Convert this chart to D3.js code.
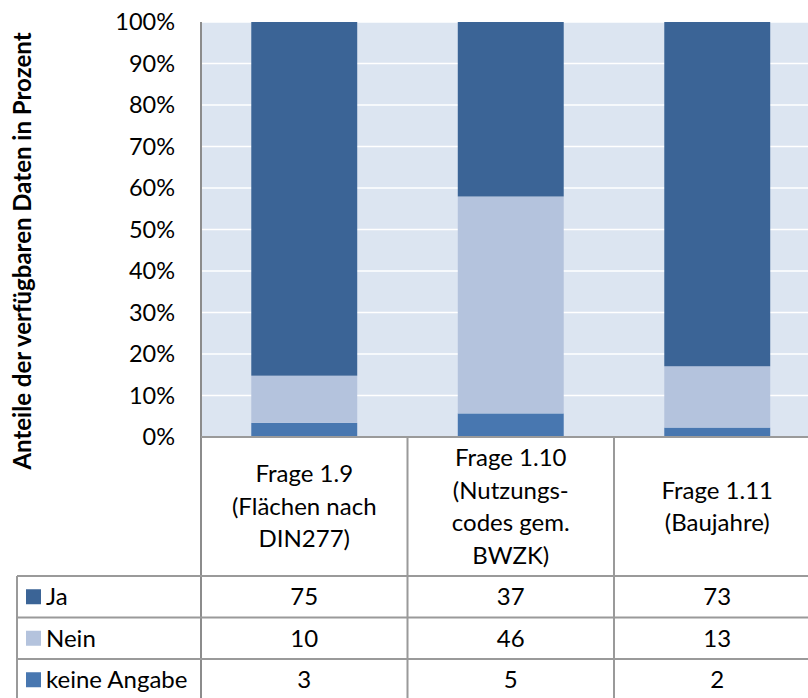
<!DOCTYPE html>
<html>
<head>
<meta charset="utf-8">
<script src="https://cdn.jsdelivr.net/npm/d3@7/dist/d3.min.js"></script>
<style>
  html, body { margin: 0; padding: 0; background: #ffffff; }
  svg { display: block; }
  text { font-family: Lato, "Open Sans", sans-serif; fill: #000; }
</style>
</head>
<body>
<svg id="chart" width="808" height="698"></svg>
<script>
// Survey answers per question (counts)
const categories = [
  ["Frage 1.9", "(Flächen nach", "DIN277)"],
  ["Frage 1.10", "(Nutzungs-", "codes gem.", "BWZK)"],
  ["Frage 1.11", "(Baujahre)"]
];
const categoryIds = ["Frage 1.9", "Frage 1.10", "Frage 1.11"];
const seriesNames = ["Ja", "Nein", "keine Angabe"];
const ja = [75, 37, 73];
const nein = [10, 46, 13];
const keineAngabe = [3, 5, 2];
const tickValues = [0, 0.1, 0.2, 0.3, 0.4, 0.5, 0.6, 0.7, 0.8, 0.9, 1.0];
const yTitle = "Anteile der verfügbaren Daten in Prozent";

const colors = { "Ja": "#3b6496", "Nein": "#b4c3dd", "keine Angabe": "#4877b0" };
const seriesValues = { "Ja": ja, "Nein": nein, "keine Angabe": keineAngabe };

const svg = d3.select("#chart");

const plotLeft = 201, plotTop = 22, plotBottom = 437;
const step = 206.5;
const plotRight = plotLeft + step * categoryIds.length;
const tableLeft = 17, tableTop = 576, rowH = 41.5;
const fs = 24;

const x = d3.scaleBand()
  .domain(categoryIds)
  .range([plotLeft, plotRight])
  .paddingInner(0.487)
  .paddingOuter(0.2435);

const y = d3.scaleLinear().domain([0, 1]).range([plotBottom, plotTop]);

// plot background
svg.append("rect")
  .attr("x", plotLeft).attr("y", plotTop)
  .attr("width", plotRight - plotLeft).attr("height", plotBottom - plotTop)
  .attr("fill", "#dce5f1");

// white gridlines
svg.append("g").selectAll("line")
  .data(tickValues.filter(d => d > 0))
  .join("line")
  .attr("x1", plotLeft).attr("x2", plotRight)
  .attr("y1", d => y(d)).attr("y2", d => y(d))
  .attr("stroke", "#ffffff").attr("stroke-width", 1.6);

// stacked 100% bars: keine Angabe at the bottom, Ja on top
const rows = categoryIds.map((c, i) => ({
  cat: c, "Ja": ja[i], "Nein": nein[i], "keine Angabe": keineAngabe[i]
}));
const stack = d3.stack()
  .keys(["keine Angabe", "Nein", "Ja"])
  .offset(d3.stackOffsetExpand);
const layers = stack(rows);

svg.append("g").selectAll("g")
  .data(layers)
  .join("g")
  .attr("fill", d => colors[d.key])
  .selectAll("rect")
  .data(d => d)
  .join("rect")
  .attr("x", d => x(d.data.cat))
  .attr("width", x.bandwidth())
  .attr("y", d => y(d[1]))
  .attr("height", d => y(d[0]) - y(d[1]));

// y axis tick labels
const yAxis = d3.axisLeft(y)
  .tickValues(tickValues)
  .tickFormat(d3.format(".0%"))
  .tickSize(0)
  .tickPadding(26);
const ya = svg.append("g").attr("transform", `translate(${plotLeft},0)`).call(yAxis);
ya.select(".domain").remove();
ya.selectAll("text")
  .attr("font-size", 23.5)
  .attr("font-family", "Lato, sans-serif")
  .attr("fill", "#000");

// y axis title
svg.append("text")
  .attr("transform", "translate(31,251) rotate(-90)")
  .attr("text-anchor", "middle")
  .attr("font-size", 24)
  .attr("font-weight", "bold")
  .text(yTitle);

// data table lines
const gridColor = "#9a9a9a";
const colEdges = d3.range(categoryIds.length + 1).map(i => plotLeft + i * step);
const lines = svg.append("g").attr("stroke", gridColor).attr("stroke-width", 2);

// axis line / header borders
lines.append("line").attr("x1", plotLeft).attr("x2", plotLeft).attr("y1", plotTop).attr("y2", 700).attr("stroke", "#8c8c8c");
lines.append("line").attr("x1", plotLeft).attr("x2", plotRight).attr("y1", plotBottom).attr("y2", plotBottom);
colEdges.slice(1).forEach(cx => {
  lines.append("line").attr("x1", cx).attr("x2", cx).attr("y1", plotBottom).attr("y2", 700);
});
lines.append("line").attr("x1", tableLeft).attr("x2", tableLeft).attr("y1", tableTop).attr("y2", 700);
d3.range(seriesNames.length + 1).forEach(r => {
  const yy = tableTop + r * rowH;
  lines.append("line").attr("x1", tableLeft).attr("x2", plotRight).attr("y1", yy).attr("y2", yy);
});

// category header text (multi-line, centered)
const lineH = 32.5;
const headerMid = (plotBottom + tableTop) / 2;
categories.forEach((linesArr, i) => {
  const cx = x(categoryIds[i]) + x.bandwidth() / 2;
  const t = svg.append("text")
    .attr("text-anchor", "middle")
    .attr("font-size", fs);
  const n = linesArr.length;
  linesArr.forEach((s, j) => {
    t.append("tspan")
      .attr("x", cx)
      .attr("y", headerMid + (j - (n - 1) / 2) * lineH)
      .attr("dy", "0.35em")
      .text(s);
  });
});

// table rows: legend key + values
seriesNames.forEach((name, r) => {
  const cy = tableTop + r * rowH + rowH / 2;
  svg.append("rect")
    .attr("x", 26).attr("y", cy - 7.5)
    .attr("width", 15).attr("height", 15)
    .attr("fill", colors[name]);
  svg.append("text")
    .attr("x", 46).attr("y", cy).attr("dy", "0.35em")
    .attr("font-size", fs)
    .text(name);
  seriesValues[name].forEach((v, i) => {
    svg.append("text")
      .attr("x", x(categoryIds[i]) + x.bandwidth() / 2)
      .attr("y", cy).attr("dy", "0.35em")
      .attr("text-anchor", "middle")
      .attr("font-size", fs)
      .text(v);
  });
});
</script>
</body>
</html>
